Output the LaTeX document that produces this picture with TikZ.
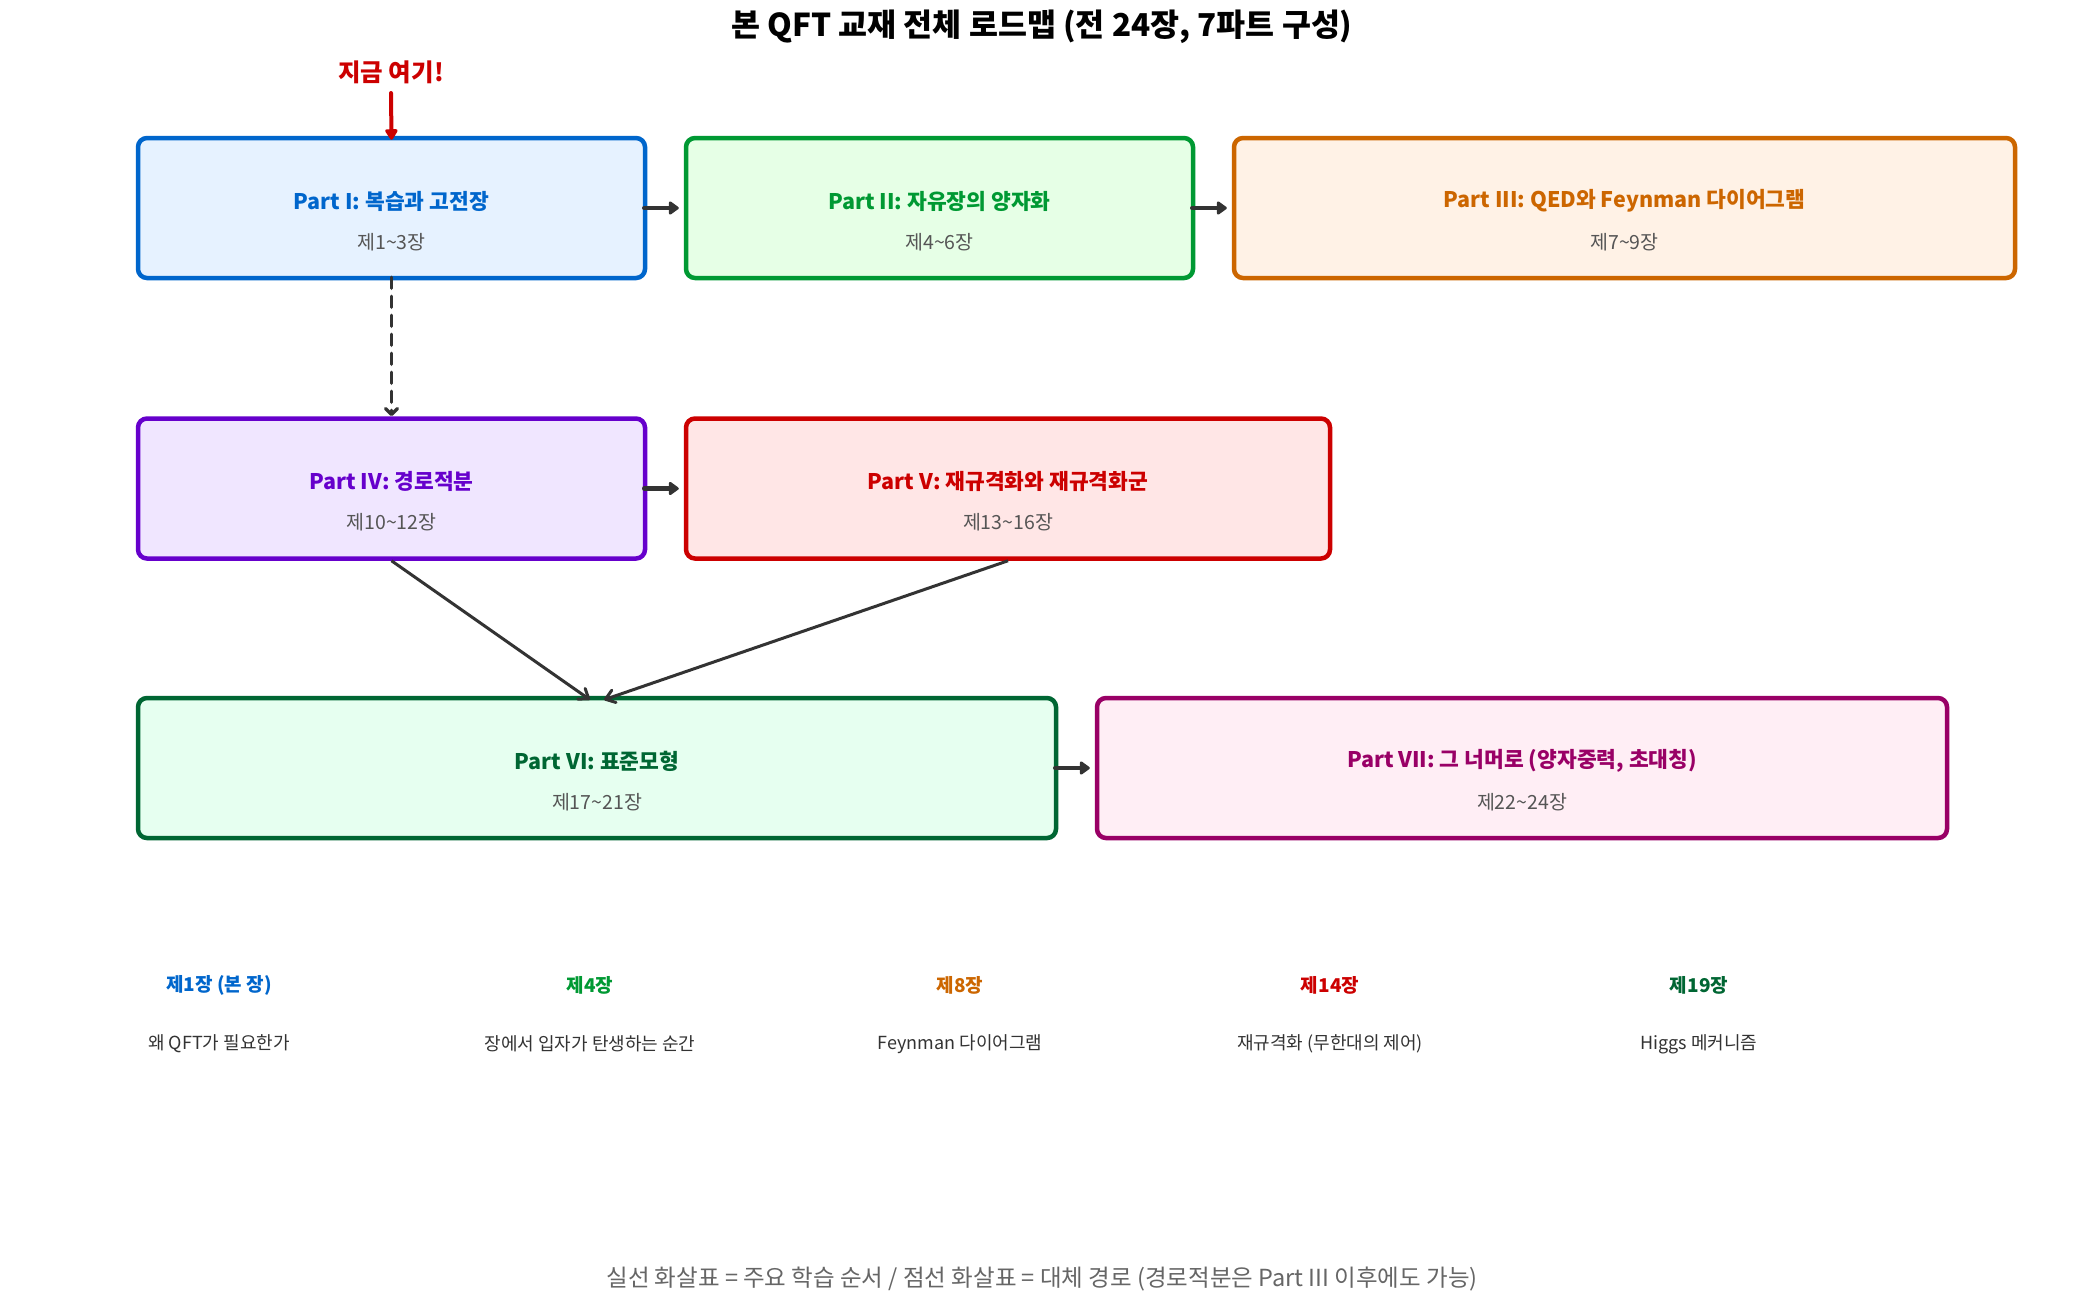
\documentclass[tikz,border=0pt]{standalone}
\usepackage{fontspec}
\setmainfont{Noto Sans CJK KR}
\usetikzlibrary{arrows.meta}
\definecolor{cA}{HTML}{0066CC}\definecolor{fA}{HTML}{E6F2FF}
\definecolor{cB}{HTML}{009933}\definecolor{fB}{HTML}{E6FFE6}
\definecolor{cC}{HTML}{CC6600}\definecolor{fC}{HTML}{FFF2E6}
\definecolor{cD}{HTML}{6600CC}\definecolor{fD}{HTML}{F0E6FF}
\definecolor{cE}{HTML}{CC0000}\definecolor{fE}{HTML}{FFE6E6}
\definecolor{cF}{HTML}{006633}\definecolor{fF}{HTML}{E6FFF0}
\definecolor{cG}{HTML}{990066}\definecolor{fG}{HTML}{FFEEF5}
\definecolor{arr}{HTML}{333333}
\definecolor{subg}{HTML}{555555}
\definecolor{footg}{HTML}{666666}
\tikzset{
  partbox/.style={draw, line width=4.5pt, rounded corners=9pt, minimum height=140pt, inner sep=0pt},
  ptitle/.style={font=\bfseries\fontsize{21.5}{25}\selectfont, inner sep=0pt},
  psub/.style={font=\fontsize{19.5}{23}\selectfont, text=subg, inner sep=0pt},
  harrow/.style={draw=arr, line width=4.5pt, line cap=round, -{Triangle[round, length=11pt, width=15pt]}, shorten <=-3pt, shorten >=5pt},
  darrow/.style={draw=arr, line width=3.5pt, line cap=round, dash pattern=on 11pt off 8pt, -{Straight Barb[round, length=6pt, width=12pt]}, shorten <=-3pt},
  sarrow/.style={draw=arr, line width=3pt, -{Straight Barb[round, length=9pt, width=13pt]}},
  chlab/.style={font=\bfseries\fontsize{19}{22}\selectfont, inner sep=0pt},
  chdesc/.style={font=\fontsize{18}{21}\selectfont, text=arr, inner sep=0pt}
}
\begin{document}
\begin{tikzpicture}[x=1pt,y=-1pt]
\useasboundingbox (0,0) rectangle (2085,1307);
\fill[white] (0,0) rectangle (2085,1307);
\node[font=\bfseries\fontsize{31.5}{35}\selectfont, inner sep=0pt] (title) at (1042,27) {본 QFT 교재 전체 로드맵 (전 24장, 7파트 구성)};
% boxes
\node[partbox, draw=cA, fill=fA, minimum width=507pt] (p1) at (391.5,208) {};
\node[partbox, draw=cB, fill=fB, minimum width=507pt] (p2) at (939.5,208) {};
\node[partbox, draw=cC, fill=fC, minimum width=781pt] (p3) at (1624.5,208) {};
\node[partbox, draw=cD, fill=fD, minimum width=507pt] (p4) at (391.5,488.5) {};
\node[partbox, draw=cE, fill=fE, minimum width=644pt] (p5) at (1008,488.5) {};
\node[partbox, draw=cF, fill=fF, minimum width=918pt] (p6) at (597,768) {};
\node[partbox, draw=cG, fill=fG, minimum width=850pt] (p7) at (1522,768) {};
% titles
\node[ptitle, text=cA] (t1) at ([yshift=7pt]p1.center) {Part I: 복습과 고전장};
\node[psub] (s1) at ([yshift=-34pt]p1.center) {제1\textasciitilde3장};
\node[ptitle, text=cB] (t2) at ([yshift=7pt]p2.center) {Part II: 자유장의 양자화};
\node[psub] (s2) at ([yshift=-34pt]p2.center) {제4\textasciitilde6장};
\node[ptitle, text=cC] (t3) at ([yshift=7pt]p3.center) {Part III: QED와 Feynman 다이어그램};
\node[psub] (s3) at ([yshift=-34pt]p3.center) {제7\textasciitilde9장};
\node[ptitle, text=cD] (t4) at ([yshift=7pt]p4.center) {Part IV: 경로적분};
\node[psub] (s4) at ([yshift=-34pt]p4.center) {제10\textasciitilde12장};
\node[ptitle, text=cE] (t5) at ([yshift=7pt]p5.center) {Part V: 재규격화와 재규격화군};
\node[psub] (s5) at ([yshift=-34pt]p5.center) {제13\textasciitilde16장};
\node[ptitle, text=cF] (t6) at ([yshift=7pt]p6.center) {Part VI: 표준모형};
\node[psub] (s6) at ([yshift=-34pt]p6.center) {제17\textasciitilde21장};
\node[ptitle, text=cG] (t7) at ([yshift=7pt]p7.center) {Part VII: 그 너머로 (양자중력, 초대칭)};
\node[psub] (s7) at ([yshift=-34pt]p7.center) {제22\textasciitilde24장};
% here marker
\node[font=\bfseries\fontsize{24.5}{28}\selectfont, text=cE, inner sep=0pt] (here) at (391,72) {지금 여기!};
\coordinate (hs) at (391,93);
\draw[draw=cE, line width=4pt, line cap=round, -{Triangle[round, length=12pt, width=14pt]}] (hs) -- ([yshift=-4pt]p1.north);
% arrows
\draw[harrow] (p1.east) -- (p2.west);
\draw[harrow] (p2.east) -- (p3.west);
\draw[harrow] (p4.east) -- (p5.west);
\draw[harrow] (p6.east) -- (p7.west);
\draw[darrow] (p1.south) -- (p4.north);
\coordinate (e4) at ([xshift=-7pt,yshift=-4pt]p6.north);
\coordinate (e5) at ([xshift=7pt,yshift=-4pt]p6.north);
\draw[sarrow] (p4.south) -- (e4);
\draw[sarrow] (p5.south) -- (e5);
% chapter highlights
\node[chlab, text=cA] (c1) at (219,985) {제1장 (본 장)};
\node[chlab, text=cB] (c2) at (590,985) {제4장};
\node[chlab, text=cC] (c3) at (960,985) {제8장};
\node[chlab, text=cE] (c4) at (1330,985) {제14장};
\node[chlab, text=cF] (c5) at (1699,985) {제19장};
\node[chdesc] (d1) at (219,1044) {왜 QFT가 필요한가};
\node[chdesc] (d2) at (590,1044) {장에서 입자가 탄생하는 순간};
\node[chdesc] (d3) at (960,1044) {Feynman 다이어그램};
\node[chdesc] (d4) at (1330,1044) {재규격화 (무한대의 제어)};
\node[chdesc] (d5) at (1699,1044) {Higgs 메커니즘};
% footer
\node[font=\fontsize{23.5}{27}\selectfont, text=footg, inner sep=0pt] (foot) at (1042,1279) {실선 화살표 = 주요 학습 순서 / 점선 화살표 = 대체 경로 (경로적분은 Part III 이후에도 가능)};
\end{tikzpicture}
\end{document}
